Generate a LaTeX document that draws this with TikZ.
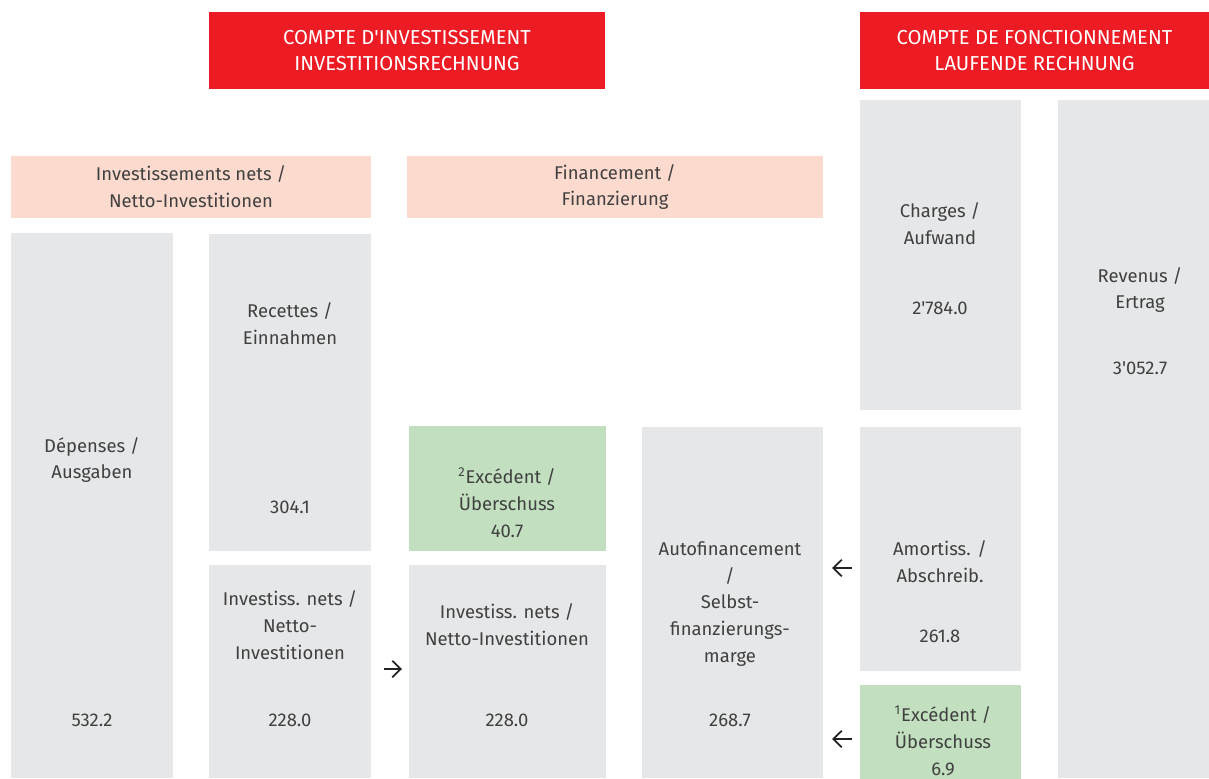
\documentclass[tikz,border=0pt]{standalone}
\usepackage{fontspec}
\setmainfont{Fira Sans}
\usetikzlibrary{fit,arrows.meta}

\definecolor{kred}{HTML}{ED1C24}
\definecolor{kpeach}{HTML}{FCDACD}
\definecolor{kgray}{HTML}{E6E7E8}
\definecolor{kgreen}{HTML}{C2E0C0}
\definecolor{ktext}{HTML}{404040}
\definecolor{karrow}{HTML}{222222}

\begin{document}
\begin{tikzpicture}[x=0.02cm,y=-0.02cm,
    panel/.style={inner sep=0pt, outer sep=0pt},
    txt/.style={align=center, text=ktext, font=\fontsize{10.5}{15.3}\selectfont},
    headtxt/.style={align=center, text=white, font=\fontsize{11.5}{15.3}\selectfont},
    arr/.style={-{Straight Barb[length=1.7mm,width=3.3mm]}, line width=1pt, karrow}]

    % page frame
    \clip (0,0) rectangle (1209,778);

    % Red headers
    \node[panel, fill=kred, fit={(209,12) (605,89)}] (hInv) {};
    \node[headtxt] (hInvT) at (hInv.center) {COMPTE D\textquotesingle INVESTISSEMENT\\INVESTITIONSRECHNUNG};
    \node[panel, fill=kred, fit={(860,12) (1209,89)}] (hFon) {};
    \node[headtxt] (hFonT) at (hFon.center) {COMPTE DE FONCTIONNEMENT\\LAUFENDE RECHNUNG};

    % Peach titles
    \node[panel, fill=kpeach, fit={(11,156) (371,218)}] (pNet) {};
    \node[txt] (pNetT) at (pNet.center) {Investissements nets /\\Netto-Investitionen};
    \node[panel, fill=kpeach, fit={(407,156) (823,218)}] (pFin) {};
    \node[txt] (pFinT) at (pFin.center) {Financement /\\Finanzierung};

    % Investment account
    \node[panel, fill=kgray, fit={(11,233) (173,778)}] (dep) {};
    \node[txt] (depT) at (92,460) {Dépenses /\\Ausgaben};
    \node[txt] (depV) at (92,720) {532.2};

    \node[panel, fill=kgray, fit={(209,234) (371,551)}] (rec) {};
    \node[txt] (recT) at (290,324) {Recettes /\\Einnahmen};
    \node[txt] (recV) at (290,507) {304.1};

    \node[panel, fill=kgray, fit={(209,565) (371,778)}] (invA) {};
    \node[txt] (invAT) at (290,625) {Investiss. nets /\\Netto-\\Investitionen};
    \node[txt] (invAV) at (290,720) {228.0};

    \node[panel, fill=kgreen, fit={(409,426) (606,551)}] (excB) {};
    \node[txt] (excBT) at (507,503) {\textsuperscript{2}Excédent /\\Überschuss\\40.7};

    \node[panel, fill=kgray, fit={(409,565) (606,778)}] (invB) {};
    \node[txt] (invBT) at (507,625) {Investiss. nets /\\Netto-Investitionen};
    \node[txt] (invBV) at (507,720) {228.0};

    \node[panel, fill=kgray, fit={(642,427) (823,778)}] (auto) {};
    \node[txt] (autoT) at (730,604) {Autofinancement\\/\\Selbst-\\finanzierungs-\\marge};
    \node[txt] (autoV) at (730,720) {268.7};

    % Operating account
    \node[panel, fill=kgray, fit={(860,100) (1021,410)}] (cha) {};
    \node[txt] (chaT) at (940,224) {Charges /\\Aufwand};
    \node[txt] (chaV) at (940,308) {2\textquotesingle 784.0};

    \node[panel, fill=kgray, fit={(860,427) (1021,671)}] (amo) {};
    \node[txt] (amoT) at (940,562) {Amortiss. /\\Abschreib.};
    \node[txt] (amoV) at (940,636) {261.8};

    \node[panel, fill=kgreen, fit={(860,685) (1021,800)}] (excA) {};
    \node[txt] (excAT) at (943,741) {\textsuperscript{1}Excédent /\\Überschuss\\6.9};

    \node[panel, fill=kgray, fit={(1058,100) (1209,778)}] (rev) {};
    \node[txt] (revT) at (1140,290) {Revenus /\\Ertrag};
    \node[txt] (revV) at (1140,368) {3\textquotesingle 052.7};

    % Flow arrows
    \draw[arr, shorten <=0.26cm, shorten >=0.14cm] (invA.east |- 0,669) -- (invB.west |- 0,669);
    \draw[arr, shorten <=0.16cm, shorten >=0.18cm] (amo.west |- 0,568) -- (auto.east |- 0,568);
    \draw[arr, shorten <=0.16cm, shorten >=0.18cm] (excA.west |- 0,739) -- (auto.east |- 0,739);

\end{tikzpicture}
\end{document}
